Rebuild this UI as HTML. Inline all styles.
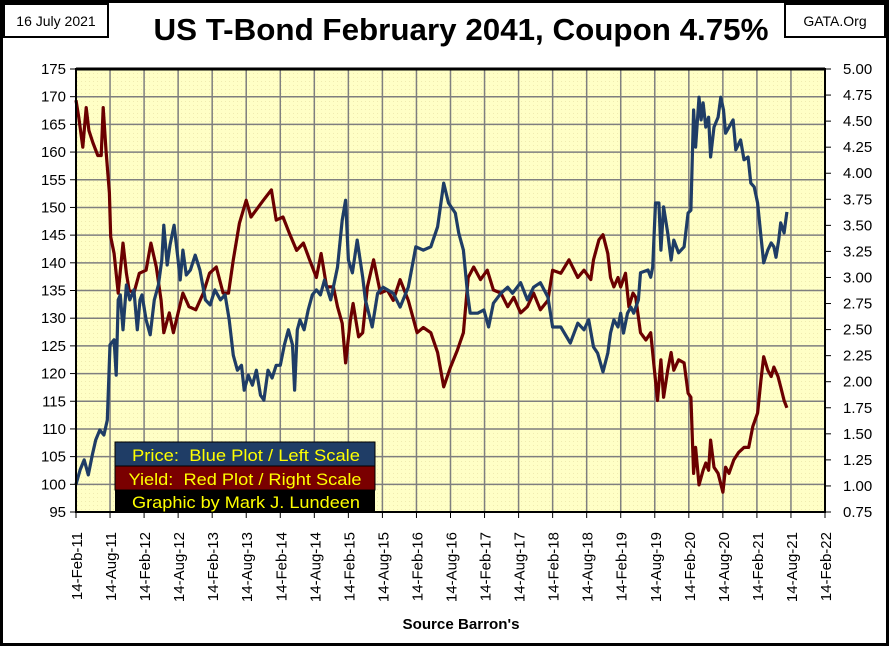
<!DOCTYPE html>
<html><head><meta charset="utf-8"><style>
html,body{margin:0;padding:0;background:#000;}
svg{display:block;font-family:"Liberation Sans",Arial,sans-serif;}
</style></head><body>
<svg id="chart" width="889" height="646" viewBox="0 0 889 646" xmlns="http://www.w3.org/2000/svg">
<defs>
<pattern id="dots" width="4" height="4" patternUnits="userSpaceOnUse"><rect width="4" height="4" fill="#FFFFC6"/><rect x="1" y="1" width="1" height="1" fill="#F0EBB0"/></pattern>
</defs>
<rect x="0" y="0" width="889" height="646" fill="#000"/>
<rect x="3" y="3" width="883" height="640" fill="#fff"/>
<rect x="4" y="4" width="104" height="33" fill="#fff" stroke="#000" stroke-width="2"/>
<text x="56" y="26" font-size="14" text-anchor="middle">16 July 2021</text>
<rect x="785" y="4" width="100" height="33" fill="#fff" stroke="#000" stroke-width="2"/>
<text x="835" y="26" font-size="14" text-anchor="middle">GATA.Org</text>
<text x="461" y="40" font-size="31" font-weight="bold" text-anchor="middle" textLength="615" lengthAdjust="spacingAndGlyphs">US T-Bond February 2041, Coupon 4.75%</text>
<rect x="76" y="69" width="749" height="443" fill="url(#dots)"/>
<g id="grid"></g>
<g id="axes"></g>
<g id="series"></g>
<rect x="76" y="69" width="749" height="443" fill="none" stroke="#000" stroke-width="2"/>
<line x1="76" y1="69" x2="825" y2="69" stroke="#000" stroke-width="3"/>
<g>
<rect x="115" y="442" width="260" height="24" fill="#1F3D66" stroke="#000" stroke-width="1"/>
<text x="246" y="461" font-size="17" fill="#FFFF00" text-anchor="middle" textLength="228" lengthAdjust="spacingAndGlyphs" xml:space="preserve">Price:  Blue Plot / Left Scale</text>
<rect x="115" y="466" width="260" height="24" fill="#7A0000" stroke="#000" stroke-width="1"/>
<text x="245" y="485" font-size="17" fill="#FFFF00" text-anchor="middle" textLength="233" lengthAdjust="spacingAndGlyphs" xml:space="preserve">Yield:  Red Plot / Right Scale</text>
<rect x="115" y="490" width="260" height="23" fill="#000"/>
<text x="246" y="508" font-size="17" fill="#FFFF00" text-anchor="middle" textLength="228" lengthAdjust="spacingAndGlyphs">Graphic by Mark J. Lundeen</text>
</g>
<text x="461" y="629" font-size="15" font-weight="bold" text-anchor="middle" textLength="117" lengthAdjust="spacingAndGlyphs">Source Barron's</text>
</svg>
<script>
const dates=[2011.12,2011.18,2011.24,2011.30,2011.36,2011.41,2011.47,2011.53,2011.58,2011.62,2011.68,2011.71,2011.74,2011.77,2011.81,2011.86,2011.91,2011.97,2012.02,2012.06,2012.09,2012.15,2012.21,2012.27,2012.33,2012.38,2012.41,2012.46,2012.50,2012.56,2012.62,2012.65,2012.69,2012.74,2012.80,2012.87,2012.94,2013.02,2013.09,2013.16,2013.24,2013.31,2013.37,2013.43,2013.49,2013.55,2013.59,2013.65,2013.71,2013.77,2013.83,2013.88,2013.94,2014.00,2014.06,2014.12,2014.18,2014.24,2014.30,2014.33,2014.37,2014.41,2014.47,2014.53,2014.59,2014.65,2014.71,2014.77,2014.86,2014.96,2015.03,2015.08,2015.12,2015.18,2015.25,2015.33,2015.37,2015.47,2015.55,2015.63,2015.78,2015.88,2016.00,2016.11,2016.22,2016.33,2016.43,2016.52,2016.59,2016.69,2016.74,2016.81,2016.87,2016.91,2017.02,2017.11,2017.18,2017.25,2017.36,2017.46,2017.53,2017.65,2017.75,2017.84,2017.94,2018.05,2018.12,2018.24,2018.38,2018.49,2018.58,2018.65,2018.72,2018.78,2018.86,2018.93,2018.97,2019.02,2019.08,2019.12,2019.16,2019.22,2019.27,2019.31,2019.38,2019.41,2019.52,2019.56,2019.59,2019.63,2019.68,2019.71,2019.75,2019.81,2019.86,2019.90,2019.97,2020.05,2020.11,2020.15,2020.19,2020.22,2020.27,2020.30,2020.33,2020.37,2020.41,2020.44,2020.49,2020.55,2020.59,2020.63,2020.66,2020.71,2020.77,2020.81,2020.88,2020.93,2020.99,2021.03,2021.08,2021.13,2021.18,2021.22,2021.28,2021.33,2021.37,2021.40,2021.44,2021.47,2021.52,2021.56];
const prices=[100,102.6,104.4,101.7,105.3,108.0,109.8,108.9,111.6,125.2,126.1,119.7,133.3,134.2,127.9,136.0,133.3,135.1,127.9,133.3,134.2,129.7,127.0,133.3,136.0,140.5,146.8,139.6,143.2,146.8,140.5,136.9,142.3,137.8,138.7,141.4,138.7,133.3,132.4,135.1,133.3,134.2,129.7,123.3,120.6,121.5,117.0,119.7,117.9,120.6,116.1,115.2,120.6,119.2,121.5,121.5,125.2,127.9,125.2,117.0,127.9,129.7,127.9,131.5,134.2,135.1,134.2,136.9,133.3,139.2,147.7,151.3,140.5,138.2,144.1,137.4,133.3,128.4,134.5,135.6,134.5,132.0,135.6,142.9,142.3,142.9,146.5,154.4,150.8,149.0,145.4,142.3,134.5,130.9,130.9,131.5,128.4,132.7,134.5,135.6,134.5,136.4,133.3,135.6,136.4,133.8,128.4,128.4,125.5,129.1,127.9,129.7,124.8,123.7,120.3,123.7,127.3,129.7,128.4,130.9,127.3,130.9,132.0,130.9,133.3,138.2,138.7,137.4,139.2,150.8,150.8,142.3,150.1,145.4,140.5,144.1,141.8,142.9,149.0,149.5,167.6,160.9,169.9,165.8,168.9,164.5,166.3,159.1,164.5,166.3,169.9,167.6,163.4,164.5,165.8,160.4,162.2,158.6,159.1,154.4,153.7,150.8,144.7,140.0,142.3,143.6,142.9,141.0,144.1,147.2,145.4,149.2];
const yieldDates=[2011.12,2011.16,2011.22,2011.27,2011.31,2011.37,2011.44,2011.49,2011.52,2011.56,2011.61,2011.63,2011.68,2011.74,2011.81,2011.86,2011.90,2011.97,2012.05,2012.15,2012.22,2012.30,2012.37,2012.41,2012.49,2012.55,2012.62,2012.69,2012.78,2012.88,2012.99,2013.08,2013.18,2013.28,2013.36,2013.43,2013.52,2013.62,2013.69,2013.77,2013.87,2013.99,2014.06,2014.16,2014.25,2014.36,2014.46,2014.55,2014.65,2014.72,2014.80,2014.90,2014.96,2015.03,2015.08,2015.15,2015.19,2015.27,2015.33,2015.40,2015.49,2015.59,2015.69,2015.78,2015.88,2016.00,2016.13,2016.22,2016.33,2016.43,2016.52,2016.62,2016.72,2016.81,2016.88,2016.96,2017.06,2017.16,2017.25,2017.36,2017.46,2017.55,2017.65,2017.75,2017.84,2017.94,2018.05,2018.12,2018.24,2018.36,2018.49,2018.58,2018.68,2018.72,2018.80,2018.86,2018.93,2018.97,2019.02,2019.08,2019.12,2019.19,2019.24,2019.30,2019.34,2019.41,2019.49,2019.56,2019.60,2019.66,2019.71,2019.75,2019.81,2019.86,2019.90,2019.97,2020.05,2020.11,2020.15,2020.19,2020.22,2020.27,2020.33,2020.37,2020.41,2020.44,2020.49,2020.55,2020.62,2020.66,2020.71,2020.78,2020.85,2020.93,2021.00,2021.06,2021.13,2021.18,2021.22,2021.28,2021.33,2021.37,2021.43,2021.47,2021.52,2021.56];
const yields=[4.70,4.54,4.25,4.63,4.41,4.29,4.17,4.17,4.63,4.22,3.81,3.39,3.23,2.85,3.33,3.04,2.88,2.85,3.04,3.07,3.33,3.10,2.78,2.47,2.66,2.47,2.66,2.85,2.72,2.69,2.85,3.04,3.10,2.85,2.85,3.17,3.52,3.74,3.58,3.65,3.74,3.84,3.55,3.58,3.43,3.26,3.33,3.17,3.00,3.23,2.91,2.91,2.72,2.56,2.18,2.59,2.75,2.43,2.47,2.91,3.17,2.85,2.88,2.78,2.98,2.78,2.47,2.52,2.47,2.28,1.95,2.14,2.30,2.47,3.00,3.10,2.98,3.07,2.88,2.85,2.72,2.81,2.66,2.72,2.85,2.69,2.78,3.07,3.04,3.17,3.00,3.07,2.98,3.17,3.36,3.41,3.23,3.00,2.91,3.00,2.91,3.04,2.72,2.85,2.81,2.47,2.40,2.47,2.21,1.82,2.21,1.85,2.11,2.28,2.11,2.21,2.18,1.89,1.85,1.12,1.37,1.01,1.15,1.22,1.15,1.44,1.18,1.12,0.94,1.18,1.12,1.25,1.32,1.37,1.37,1.57,1.70,2.02,2.24,2.11,2.05,2.14,2.05,1.95,1.82,1.75];
const leftTicks=[175,170,165,160,155,150,145,140,135,130,125,120,115,110,105,100,95];
const rightTicks=["5.00","4.75","4.50","4.25","4.00","3.75","3.50","3.25","3.00","2.75","2.50","2.25","2.00","1.75","1.50","1.25","1.00","0.75"];
const xTickLabels=["14-Feb-11","14-Aug-11","14-Feb-12","14-Aug-12","14-Feb-13","14-Aug-13","14-Feb-14","14-Aug-14","14-Feb-15","14-Aug-15","14-Feb-16","14-Aug-16","14-Feb-17","14-Aug-17","14-Feb-18","14-Aug-18","14-Feb-19","14-Aug-19","14-Feb-20","14-Aug-20","14-Feb-21","14-Aug-21","14-Feb-22"];
const X0=76,X1=825,Y0=69,Y1=512,T0=2011.12,T1=2022.12;
const NS="http://www.w3.org/2000/svg";
function xs(t){return X0+(t-T0)/(T1-T0)*(X1-X0);}
function yl(v){return Y1-(v-95)/(175-95)*(Y1-Y0);}
function yr(v){return Y1-(v-0.75)/(5-0.75)*(Y1-Y0);}
function mk(tag,attrs,parent){const e=document.createElementNS(NS,tag);for(const k in attrs)e.setAttribute(k,attrs[k]);parent.appendChild(e);return e;}
const grid=document.getElementById('grid'),axes=document.getElementById('axes'),series=document.getElementById('series');
leftTicks.forEach(v=>{
  const y=yl(v);
  const g=mk('line',{x1:X0,x2:X1,y1:y,y2:y,stroke:'#7F7F7F','stroke-width':1.5},grid);
  
  
  const tk=mk('line',{x1:X0-6,x2:X0,y1:y,y2:y,stroke:'#000','stroke-width':1},axes);
  
  
  const t=mk('text',{x:X0-10,y:y+5,'font-size':15,'text-anchor':'end'},axes);
  t.textContent=v;
  
  
});
rightTicks.forEach(s=>{
  const y=yr(parseFloat(s));
  const tk=mk('line',{x1:X1,x2:X1+6,y1:y,y2:y,stroke:'#000','stroke-width':1},axes);
  
  
  const t=mk('text',{x:X1+18,y:y+5,'font-size':15},axes);
  t.textContent=s;
  
  
});
xTickLabels.forEach((s,i)=>{
  const x=xs(T0+i*0.5);
  const g=mk('line',{x1:x,x2:x,y1:Y0,y2:Y1,stroke:'#7F7F7F','stroke-width':1.5},grid);
  
  
  const tk=mk('line',{x1:x,x2:x,y1:Y1,y2:Y1+6,stroke:'#000','stroke-width':1},axes);
  
  
  const t=mk('text',{x:0,y:0,'font-size':15,'text-anchor':'end',transform:`translate(${x+6},${Y1+20}) rotate(-90)`},axes);
  t.textContent=s;
  
  
});
const yp=yields.map((v,i)=>xs(yieldDates[i]).toFixed(1)+','+yr(v).toFixed(1)).join(' ');
const red=mk('polyline',{points:yp,fill:'none',stroke:'#6B0000','stroke-width':3.2,'stroke-linejoin':'round'},series);


const pp=prices.map((v,i)=>xs(dates[i]).toFixed(1)+','+yl(v).toFixed(1)).join(' ');
const blue=mk('polyline',{points:pp,fill:'none',stroke:'#1F3D66','stroke-width':3.2,'stroke-linejoin':'round'},series);


</script>
</body></html>
